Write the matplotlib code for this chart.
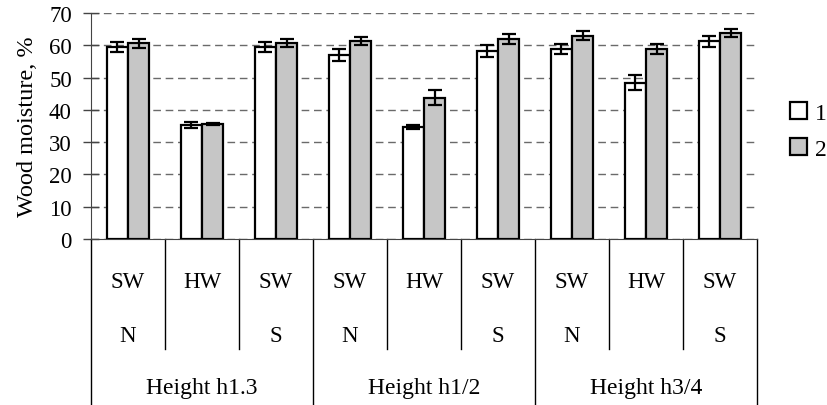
import matplotlib.pyplot as plt
import matplotlib.patches as mpatches
import numpy as np

plt.rcParams['font.family'] = ['Liberation Serif', 'DejaVu Serif']

wood = ["SW", "HW", "SW", "SW", "HW", "SW", "SW", "HW", "SW"]
side = ["N", "", "S", "N", "", "S", "N", "", "S"]
heights = ["Height h1.3", "Height h1/2", "Height h3/4"]

moist1 = [59.5, 35.4, 59.5, 57.1, 34.7, 58.2, 58.9, 48.4, 61.2]
err1 = [1.5, 0.9, 1.6, 1.9, 0.6, 1.9, 1.6, 2.4, 1.6]
moist2 = [60.6, 35.5, 60.8, 61.3, 43.8, 61.9, 63.0, 58.9, 63.8]
err2 = [1.3, 0.3, 1.3, 1.3, 2.2, 1.5, 1.3, 1.6, 1.2]

fig = plt.figure(figsize=(8.27, 4.06), dpi=100)
ax = fig.add_axes([0.110, 0.4089, 0.8054, 0.5566])

x = np.arange(len(wood))
w = 0.285
ekw = dict(ecolor="black", elinewidth=1.6, capsize=5, capthick=1.6)
ax.bar(x - w / 2, moist1, w, yerr=err1, color="white", edgecolor="black",
       linewidth=1.6, error_kw=ekw, label="1", zorder=3)
ax.bar(x + w / 2, moist2, w, yerr=err2, color="#c6c6c6", edgecolor="black",
       linewidth=1.6, error_kw=ekw, label="2", zorder=3)

ax.set_xlim(-0.5, len(wood) - 0.5)
ax.set_ylim(0, 70)
ax.set_yticks(range(0, 71, 10))
ax.yaxis.grid(True, color="#6a6a6a", linewidth=1, linestyle=(0, (5.5, 3.4)))
ax.set_axisbelow(True)
ax.tick_params(axis="y", direction="inout", length=11.5, width=1,
               labelsize=16.5, color="#444444", pad=8)
ax.set_xticks([])
for s in ["top", "right"]:
    ax.spines[s].set_visible(False)
ax.spines["left"].set_color("#444444")
ax.spines["bottom"].set_color("#444444")
ax.set_ylabel("Wood moisture, %", fontsize=17.5, labelpad=8)

# multi-level category axis below the plot
trans = ax.get_xaxis_transform()
for i in range(len(wood)):
    ax.text(x[i], -0.186, wood[i], transform=trans, ha="center", va="center",
            fontsize=16.5)
    if side[i]:
        ax.text(x[i], -0.425, side[i], transform=trans, ha="center",
                va="center", fontsize=16.5)
for b in np.arange(-0.5, len(wood), 1.0):
    bottom = -0.735 if (b + 0.5) % 3 == 0 else -0.487
    ax.plot([b, b], [0, bottom], transform=trans, color="black",
            linewidth=1, clip_on=False)
for g, name in enumerate(heights):
    ax.text(3 * g + 1, -0.655, name, transform=trans, ha="center",
            va="center", fontsize=17)

handles = [mpatches.Patch(facecolor="white", edgecolor="black", linewidth=1.6),
           mpatches.Patch(facecolor="#c6c6c6", edgecolor="black", linewidth=1.6)]
fig.legend(handles, ["1", "2"], loc="center left",
           bbox_to_anchor=(0.955, 0.675), frameon=False, fontsize=17,
           handlelength=0.75, handleheight=0.75, handletextpad=0.3,
           labelspacing=0.6, borderaxespad=0, borderpad=0)

fig.savefig("out.png", dpi=100)
